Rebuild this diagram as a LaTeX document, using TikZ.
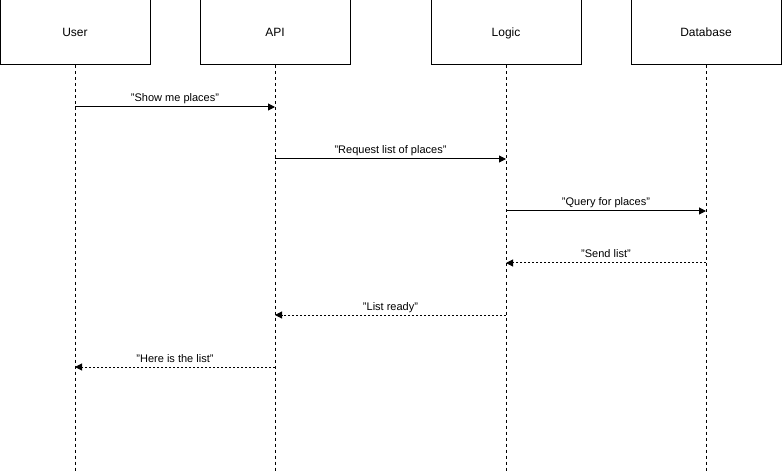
\documentclass[tikz,border=0pt]{standalone}
\usepackage{fontspec}
\setmainfont{Liberation Sans}
\usetikzlibrary{arrows.meta}
\begin{document}
\begin{tikzpicture}[x=1pt,y=-1pt,
  actor/.style={draw=black,line width=1pt,fill=white,minimum width=150pt,minimum height=65pt,inner sep=0pt,text height=9pt,text depth=1.5pt,font=\fontsize{12}{14}\selectfont},
  lifeline/.style={draw=black,line width=0.8pt,dash pattern=on 3pt off 3pt},
  msg/.style={draw=black,line width=1pt,-{Triangle[length=7pt,width=7pt]}},
  reply/.style={draw=black,line width=1pt,dash pattern=on 2pt off 2pt,-{Triangle[length=7pt,width=7pt]}},
  lbl/.style={font=\fontsize{11}{13}\selectfont,anchor=base,inner sep=0pt,yshift=5pt}]
\useasboundingbox (0,0) rectangle (782,473);
\node[actor] (user) at (75,32.5) {User};
\node[actor] (api) at (275,32.5) {API};
\node[actor] (logic) at (506,32.5) {Logic};
\node[actor] (db) at (706,32.5) {Database};
\foreach \n/\x in {user/75,api/275,logic/506,db/706}{
  \coordinate (\n end) at (\x,473);
  \draw[lifeline] (\n.south) -- (\n end);
}
\foreach \n/\x in {user/75,api/275,logic/506,db/706}{
  \foreach \k/\y in {1/107,2/159,3/211,4/263,5/315,6/367}{
    \coordinate (\n\k) at (\x,\y);
  }
}
\draw[msg] (user1) -- node[lbl]{"Show me places"} (api1);
\draw[msg] (api2) -- node[lbl]{"Request list of places"} (logic2);
\draw[msg] (logic3) -- node[lbl]{"Query for places"} (db3);
\draw[reply] (db4) -- node[lbl]{"Send list"} (logic4);
\draw[reply] (logic5) -- node[lbl]{"List ready"} (api5);
\draw[reply] (api6) -- node[lbl]{"Here is the list"} (user6);
\end{tikzpicture}
\end{document}
